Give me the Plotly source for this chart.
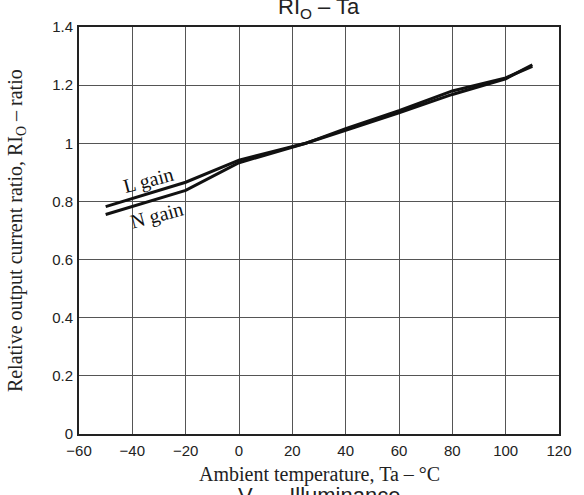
import plotly.graph_objects as go

temp_L = [-50, -20, 0, 25, 40, 60, 80, 100, 110]
ri_L = [0.782, 0.866, 0.942, 1.0, 1.045, 1.105, 1.168, 1.222, 1.27]
temp_N = [-50, -20, 0, 25, 40, 60, 80, 100, 110]
ri_N = [0.755, 0.838, 0.933, 1.0, 1.05, 1.112, 1.18, 1.225, 1.265]
x_ticks = [-60, -40, -20, 0, 20, 40, 60, 80, 100, 120]
y_ticks = [0, 0.2, 0.4, 0.6, 0.8, 1, 1.2, 1.4]

SANS = "Liberation Sans, Arial, sans-serif"
SERIF = "Liberation Serif, Times New Roman, serif"

fig = go.Figure()
fig.add_trace(go.Scatter(x=temp_L, y=ri_L, mode="lines", line=dict(color="#111", width=3), name="L gain", showlegend=False))
fig.add_trace(go.Scatter(x=temp_N, y=ri_N, mode="lines", line=dict(color="#111", width=3), name="N gain", showlegend=False))

fig.update_layout(
    width=584, height=495,
    margin=dict(l=79, r=13, t=27, b=61),
    paper_bgcolor="white", plot_bgcolor="white",
    font=dict(family=SANS, size=15, color="#222"),
    xaxis=dict(range=[-60, 120], tickvals=x_ticks, showgrid=True, gridcolor="#555", gridwidth=1,
               zeroline=False, showline=True, linecolor="#222", linewidth=2, mirror=True,
               ticks="", ticklabelstandoff=2, tickfont=dict(family=SANS, size=15, color="#222")),
    yaxis=dict(range=[0, 1.4], tickvals=y_ticks, showgrid=True, gridcolor="#555", gridwidth=1,
               zeroline=False, showline=True, linecolor="#222", linewidth=2, mirror=True,
               ticks="", ticklabelstandoff=1, tickfont=dict(family=SANS, size=15, color="#222")),
)

ann = [
    dict(text="RI<sub>O</sub> – Ta", x=0.5, y=1.046, xref="paper", yref="paper", showarrow=False,
         font=dict(family=SANS, size=22, color="#222"), yanchor="middle"),
    dict(text="V<sub>O</sub> – Illuminance", x=0.5, y=-0.116, xref="paper", yref="paper", showarrow=False,
         font=dict(family=SANS, size=22, color="#222"), yanchor="top"),
    dict(text="Ambient temperature, Ta – °C", x=0.5, y=-0.099, xref="paper", yref="paper", showarrow=False,
         font=dict(family=SERIF, size=20, color="#222"), yanchor="middle"),
    dict(text="Relative output current ratio, RI<sub>O</sub> – ratio", x=-0.13, y=0.5, xref="paper", yref="paper",
         showarrow=False, textangle=-90, font=dict(family=SERIF, size=20, color="#222"), xanchor="center"),
    dict(text="L gain", x=-34, y=0.872, xref="x", yref="y", showarrow=False, textangle=-15,
         font=dict(family=SERIF, size=20, color="#111")),
    dict(text="N gain", x=-30.7, y=0.75, xref="x", yref="y", showarrow=False, textangle=-15,
         font=dict(family=SERIF, size=20, color="#111")),
]
fig.update_layout(annotations=ann)

fig.write_html("out.html")
